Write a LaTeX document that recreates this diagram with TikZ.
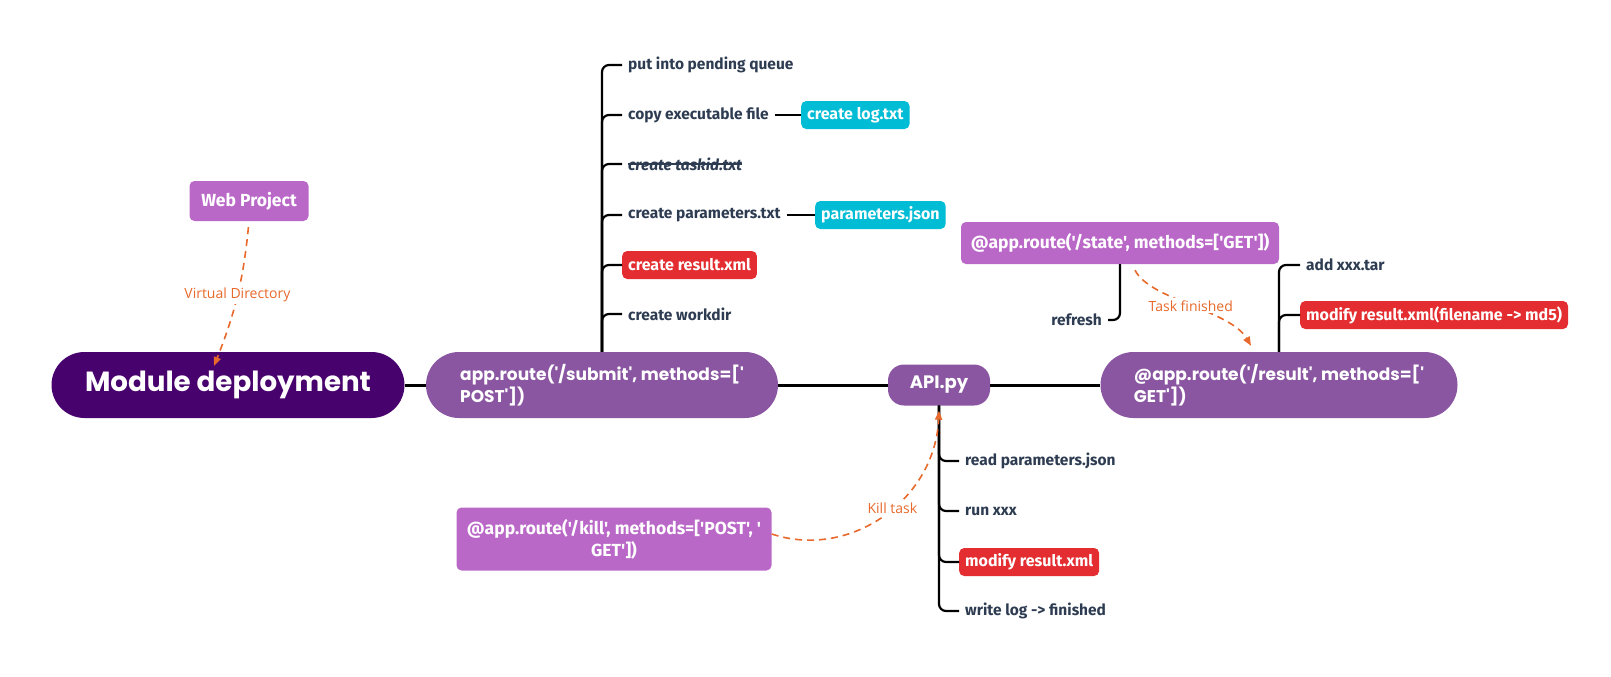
\documentclass[tikz,border=0pt]{standalone}
\usepackage{fontspec}
\setmainfont{Fira Sans}[Ligatures=TeXOff]
\newfontfamily\titlefont{Poppins}[Ligatures=TeXOff]
\newfontfamily\notefont{Open Sans}[Ligatures=TeXOff]
\usetikzlibrary{arrows.meta, positioning}
\definecolor{deeppurple}{RGB}{72, 2, 110}
\definecolor{midpurple}{RGB}{138, 86, 161}
\definecolor{lightpurple}{RGB}{186, 104, 200}
\definecolor{tealbox}{RGB}{0, 188, 212}
\definecolor{redbox}{RGB}{227, 45, 48}
\definecolor{inktext}{RGB}{46, 60, 82}
\definecolor{dashorange}{RGB}{232, 105, 44}
\tikzstyle{root} = [fill=deeppurple, text=white, rounded corners=33pt, minimum width=353pt, minimum height=66pt, font=\titlefont\bfseries\fontsize{27.7}{32}\selectfont]
\tikzstyle{route} = [fill=midpurple, text=white, rounded corners=33pt, minimum height=66pt, align=left, font=\titlefont\bfseries\fontsize{17}{22}\selectfont]
\tikzstyle{hub} = [fill=midpurple, text=white, rounded corners=16pt, minimum width=102pt, minimum height=41pt, font=\titlefont\bfseries\fontsize{18}{22}\selectfont]
\tikzstyle{side} = [fill=lightpurple, text=white, rounded corners=5pt, font=\bfseries\fontsize{17.5}{22}\selectfont]
\tikzstyle{leaf} = [text=inktext, anchor=west, inner xsep=6pt, font=\bfseries\fontsize{15.5}{18}\selectfont]
\tikzstyle{tagc} = [fill=tealbox, text=white, rounded corners=5pt, anchor=west, inner xsep=6pt, minimum height=28pt, font=\bfseries\fontsize{16}{18}\selectfont]
\tikzstyle{tagr} = [fill=redbox, text=white, rounded corners=5pt, anchor=west, inner xsep=6pt, minimum height=28pt, font=\bfseries\fontsize{16}{18}\selectfont]
\tikzstyle{trunk} = [line width=3pt]
\tikzstyle{branch} = [line width=2.2pt, rounded corners=7pt]
\tikzstyle{dasharrow} = [dashorange, line width=1.6pt, dash pattern=on 7pt off 5pt, -{Triangle[length=9pt, width=7pt]}]
\tikzstyle{dashnote} = [text=dashorange, fill=white, inner sep=2pt, font=\notefont\fontsize{14}{16}\selectfont]

\begin{document}
\begin{tikzpicture}[x=1pt, y=-1pt]
    \useasboundingbox (0,0) rectangle (1611,677);

    % Main nodes
    \node[root] (md) at (228,385) {Module deployment};
    \node[route, minimum width=352pt] (sub) at (602,385) {app.route('/submit', methods=['\\POST'])};
    \node[hub] (api) at (939,385) {API.py};
    \node[route, minimum width=357pt] (res) at (1279,385) {@app.route('/result', methods=['\\GET'])};

    % Side nodes
    \node[side, minimum width=119pt, minimum height=40pt] (web) at (249,201) {Web Project};
    \node[side, minimum width=318pt, minimum height=42pt] (state) at (1120,243) {@app.route('/state', methods=['GET'])};
    \node[side, minimum width=315pt, minimum height=63pt, align=center] (kill) at (614,539) {@app.route('/kill', methods=['POST', '\\GET'])};

    % Submit steps
    \node[leaf] (s1) at (622,65) {put into pending queue};
    \node[leaf] (s2) at (622,115) {copy executable file};
    \node[leaf, font=\bfseries\itshape\fontsize{15.5}{18}\selectfont] (s3) at (622,164) {create taskid.txt};
    \node[leaf] (s4) at (622,215) {create parameters.txt};
    \node[tagr] (s5) at (622,265) {create result.xml};
    \node[leaf] (s6) at (622,314) {create workdir};
    \node[tagc] (s2a) at (801,115) {create log.txt};
    \node[tagc] (s4a) at (815,215) {parameters.json};
    \draw[inktext, line width=1.2pt] ([xshift=6pt]s3.west) -- ([xshift=-6pt]s3.east);

    % API steps
    \node[leaf] (a1) at (959,461) {read parameters.json};
    \node[leaf] (a2) at (959,511) {run xxx};
    \node[tagr] (a3) at (959,562) {modify result.xml};
    \node[leaf] (a4) at (959,611) {write log -> finished};

    % Result and state steps
    \node[leaf] (r1) at (1300,265) {add xxx.tar};
    \node[tagr] (r2) at (1300,315) {modify result.xml(filename -> md5)};
    \node[leaf, anchor=east] (rf) at (1108,320) {refresh};

    % Connectors
    \draw[trunk] (md.east) -- (sub.west);
    \draw[trunk] (sub.east) -- (api.west);
    \draw[trunk] (api.east) -- (res.west);
    \foreach \i in {s1,s2,s3,s4,s5,s6}
        \draw[branch] (sub.north) |- (\i.west);
    \foreach \i in {a1,a2,a3,a4}
        \draw[branch] (api.south) |- (\i.west);
    \foreach \i in {r1,r2}
        \draw[branch] (res.north) |- (\i.west);
    \draw[branch] (state.south) |- (rf.east);
    \draw[branch] (s2.east) -- (s2a.west);
    \draw[branch] (s4.east) -- (s4a.west);

    % Dashed links
    \coordinate (vdend) at (214,366);
    \draw[dasharrow, shorten <=6pt] (web.south) to[bend left=8] node[dashnote] {Virtual Directory} (vdend);
    \draw[dasharrow] ([xshift=15pt, yshift=-6pt]state.south) .. controls (1150,300) and (1230,310) .. node[dashnote] {Task finished} ([xshift=-28pt, yshift=6pt]res.north);
    \draw[dasharrow] ([yshift=5pt]kill.east) .. controls (850,560) and (935,500) .. node[dashnote, pos=0.55] {Kill task} ([yshift=-5pt]api.south);
\end{tikzpicture}
\end{document}
